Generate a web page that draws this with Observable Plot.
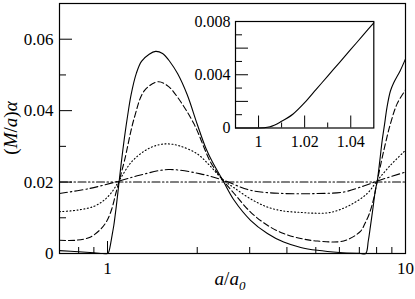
<!DOCTYPE html>
<html><head><meta charset="utf-8">
<script src="https://cdn.jsdelivr.net/npm/d3@7"></script>
<script src="https://cdn.jsdelivr.net/npm/@observablehq/plot@0.6"></script>
<style>
body{margin:0;background:#fff;}
#wrap{position:relative;width:415px;height:299px;overflow:hidden;}
#wrap svg{position:absolute;}
#wrap svg, #wrap svg text{font-family:"Liberation Serif","DejaVu Serif",serif !important;}
</style></head><body><div id="wrap"></div>
<script>
// ---- data (x = a/a0, y = (M/a)alpha) ----
const solid = [[0.69,0.0008],[0.8,0.0005],[0.9,0.0002],[1.0,0],[1.01,0.0005],[1.02,0.0019],[1.03,0.0039],[1.04,0.0059],[1.05,0.0079],[1.07,0.0132],[1.09,0.019],[1.11,0.0248],[1.14,0.0325],[1.17,0.039],[1.2,0.0445],[1.25,0.0505],[1.3,0.0538],[1.38,0.0558],[1.45,0.0566],[1.53,0.056],[1.62,0.0537],[1.72,0.0503],[1.85,0.0445],[2.0,0.0362],[2.14,0.0294],[2.25,0.0256],[2.43,0.0207],[2.66,0.0149],[3.02,0.0093],[3.44,0.0056],[3.9,0.0032],[4.45,0.0017],[5.06,0.0009],[6.0,0.0003],[7.0,0.00005],[7.35,0],[7.5,0.0035],[7.62,0.0074],[7.8,0.0135],[7.92,0.0177],[8.04,0.0203],[8.2,0.026],[8.35,0.0316],[8.5,0.036],[8.67,0.041],[8.9,0.0455],[9.13,0.0478],[9.6,0.0512],[10,0.0545]];
const dashed = [[0.69,0.0037],[0.78,0.0037],[0.87,0.0045],[0.94,0.0065],[0.99,0.0088],[1.03,0.0121],[1.066,0.0168],[1.094,0.0203],[1.14,0.026],[1.23,0.038],[1.33,0.0456],[1.48,0.0481],[1.6,0.0468],[1.72,0.0437],[1.95,0.0363],[2.22,0.0255],[2.43,0.0207],[2.66,0.0168],[3.02,0.0116],[3.44,0.0079],[3.9,0.0056],[4.45,0.0042],[5.06,0.0035],[6.2,0.0035],[7.06,0.0062],[7.3,0.0083],[7.55,0.011],[7.83,0.0155],[8.04,0.0203],[8.46,0.0289],[8.9,0.0363],[9.37,0.0419],[10,0.0458]];
const dotted = [[0.69,0.0117],[0.8,0.0122],[0.9,0.0132],[0.97,0.0148],[1.03,0.017],[1.094,0.0204],[1.2,0.0255],[1.33,0.0287],[1.45,0.0302],[1.59,0.0307],[1.75,0.0301],[2.0,0.0279],[2.2,0.0247],[2.43,0.0208],[2.66,0.0184],[3.02,0.0153],[3.44,0.013],[3.9,0.0119],[4.45,0.0115],[4.9,0.0113],[5.6,0.0115],[6.5,0.0135],[7.44,0.0168],[8.04,0.0204],[8.9,0.0247],[10,0.0289]];
const dashDot = [[0.69,0.0168],[0.87,0.0182],[1.094,0.0203],[1.28,0.0219],[1.6,0.0235],[2.05,0.0223],[2.43,0.0206],[3.02,0.0177],[3.9,0.0168],[5.06,0.0168],[6.2,0.0172],[7.24,0.0189],[8.04,0.0203],[10,0.0228]];
const flat = [[0.69,0.02],[10,0.02]];
const inset = [[0.99,0],[0.995,0],[1.0,0],[1.005,0.0001],[1.01,0.0005],[1.015,0.00105],[1.02,0.0019],[1.025,0.0029],[1.03,0.0039],[1.035,0.0049],[1.04,0.0059],[1.045,0.0069],[1.05,0.0079]];

const xMajor = [1,10], xMinor = [0.8,0.9,2,3,4,5,6,7,8,9];
const yMajor = [0,0.02,0.04,0.06], yMinor = [0.01,0.03,0.05];
const xLabels = [1,10], yLabels = [0,0.02,0.04,0.06];
const ixMajor = [1,1.02,1.04], ixMinor = [1.01,1.03];
const iyMajor = [0.002,0.004,0.006], iyMinor = [0.001,0.003,0.005,0.007];
const ixLabels = [1,1.02,1.04], iyLabels = [0,0.004,0.008];

const font = "Liberation Serif, DejaVu Serif, serif";
const W = 415, H = 299, mL = 59, mR = 10, mT = 3, mB = 46;
const pw = W - mL - mR, ph = H - mT - mB;
const X = d => d[0], Y = d => d[1];
const ln = {x: X, y: Y, curve: "catmull-rom", stroke: "black", strokeWidth: 1.1};

const main = Plot.plot({
  width: W, height: H, marginLeft: mL, marginRight: mR, marginTop: mT, marginBottom: mB,
  style: {fontFamily: font, fontSize: "17px", background: "transparent", color: "black"},
  x: {type: "log", domain: [0.69, 10]},
  y: {domain: [0, 0.07]},
  marks: [
    Plot.tickY(yMajor, {y: d => d, insetRight: pw - 13, stroke: "black"}),
    Plot.tickY(yMinor, {y: d => d, insetRight: pw - 7, stroke: "black"}),
    Plot.tickX(xMajor, {x: d => d, insetTop: ph - 12, stroke: "black"}),
    Plot.tickX(xMinor, {x: d => d, insetTop: ph - 6, stroke: "black"}),
    Plot.axisY({ticks: yLabels, tickSize: 0, tickPadding: 6, tickFormat: d => d === 0 ? "0" : d.toFixed(2), label: null, fontSize: 17}),
    Plot.axisX({ticks: xLabels, tickSize: 0, tickPadding: 8, tickFormat: d => String(d), label: null, fontSize: 17}),
    Plot.line(flat, {...ln, strokeDasharray: "8,2.5,1.5,2.5,1.5,2.5"}),
    Plot.line(dashDot, {...ln, strokeDasharray: "8,3,1.5,3"}),
    Plot.line(dotted, {...ln, strokeDasharray: "1,2.5"}),
    Plot.line(dashed, {...ln, strokeDasharray: "6,3"}),
    Plot.line(solid, ln),
    Plot.frame({stroke: "black", strokeWidth: 1.2})
  ]
});
main.style.left = "0px"; main.style.top = "0px";

// inset
const iL = 185, iT = 10, iW = 200, iH = 145;
const ipw = 373.3 - 235, iph = 127.5 - 21;
const ins = Plot.plot({
  width: iW, height: iH, marginLeft: 235 - iL, marginRight: iL + iW - 373.3, marginTop: 21 - iT, marginBottom: iT + iH - 127.5,
  style: {fontFamily: font, fontSize: "16px", background: "transparent", color: "black", overflow: "visible"},
  x: {domain: [0.99, 1.05]},
  y: {domain: [0, 0.008]},
  marks: [
    Plot.tickY(iyMajor, {y: d => d, insetRight: ipw - 13, stroke: "black"}),
    Plot.tickY(iyMinor, {y: d => d, insetRight: ipw - 7, stroke: "black"}),
    Plot.tickX(ixMajor, {x: d => d, insetTop: iph - 12, stroke: "black"}),
    Plot.tickX(ixMinor, {x: d => d, insetTop: iph - 5, stroke: "black"}),
    Plot.axisY({ticks: iyLabels, tickSize: 0, tickPadding: 5, tickFormat: d => d === 0 ? "0" : d.toFixed(3), label: null, fontSize: 16}),
    Plot.axisX({ticks: ixLabels, tickSize: 0, tickPadding: 8, tickFormat: d => d === 1 ? "1" : d.toFixed(2), label: null, fontSize: 16}),
    Plot.line(inset, {...ln, curve: "monotone-x"}),
    Plot.frame({stroke: "black", strokeWidth: 1.2})
  ]
});
ins.style.left = iL + "px"; ins.style.top = iT + "px";

const wrap = document.getElementById("wrap");
wrap.appendChild(main);
wrap.appendChild(ins);

// axis titles with italics
const svg = d3.select(main);
const yl = svg.append("text").attr("transform", "translate(17,128) rotate(-90)")
  .attr("text-anchor", "middle").attr("font-family", font).attr("font-size", 19).attr("fill", "black");
yl.append("tspan").text("(");
yl.append("tspan").attr("font-style", "italic").text("M");
yl.append("tspan").text("/");
yl.append("tspan").attr("font-style", "italic").text("a");
yl.append("tspan").text(")");
yl.append("tspan").attr("font-style", "italic").text("α");
const xl = svg.append("text").attr("x", 230).attr("y", 285)
  .attr("text-anchor", "middle").attr("font-family", font).attr("font-size", 19).attr("fill", "black");
xl.append("tspan").attr("font-style", "italic").text("a");
xl.append("tspan").text("/");
xl.append("tspan").attr("font-style", "italic").text("a");
xl.append("tspan").attr("font-style", "italic").attr("font-size", 13).attr("dy", 5).text("0");
</script></body></html>
